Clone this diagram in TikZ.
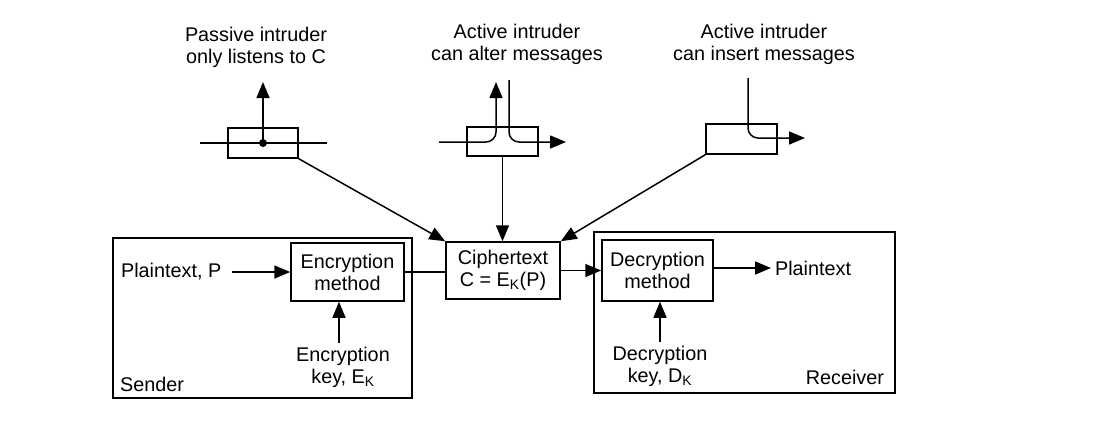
\documentclass[tikz,border=0pt]{standalone}
\usepackage{fontspec}
\setmainfont{Liberation Sans}
\usetikzlibrary{arrows.meta}

\begin{document}
\begin{tikzpicture}[x=1pt,y=-1pt,line width=1.5pt,font=\fontsize{19.8}{22}\selectfont,
  box/.style={draw,inner sep=0pt,align=center},
  arr/.style={-{Triangle[length=16pt,width=13pt]}},
  tap/.style={arr,rounded corners=10pt}]
  \useasboundingbox (0,0) rectangle (1114,424);
  % sender and receiver
  \node[box,minimum width=299pt,minimum height=160pt] (sender) at (262.5,318) {};
  \node[box,minimum width=113pt,minimum height=58pt] (enc) at (347.5,272) {Encryption\\method};
  \node[box,minimum width=114pt,minimum height=57pt] (cipher) at (503,270.5) {Ciphertext\\C = E\textsubscript{K}(P)};
  \node[box,minimum width=301pt,minimum height=161pt] (receiver) at (744.5,312.5) {};
  \node[box,minimum width=111pt,minimum height=61pt] (dec) at (657.5,270.5) {Decryption\\method};
  \node[anchor=west] (ptin) at (117,272) {Plaintext, P};
  \node[anchor=west] (ptout) at (771,268) {Plaintext};
  \node[align=center] (ekey) at (343,367) {Encryption\\key, E\textsubscript{K}};
  \node[align=center] (dkey) at (660,366) {Decryption\\key, D\textsubscript{K}};
  \node[anchor=west] (sname) at (116,384) {Sender};
  \node[anchor=east] (rname) at (888,377) {Receiver};
  \draw[arr,shorten <=7pt] (ptin.east) -- (enc.west |- ptin.east);
  \draw (enc.east) -- (enc.east -| cipher.west);
  \draw[arr] (cipher.east) -- (cipher.east -| dec.west);
  \draw[arr] (dec.east |- ptout.west) -- (ptout.west);
  \draw[arr] ([xshift=-4pt]ekey.north) -- ([xshift=-4pt]ekey.north |- enc.south);
  \draw[arr] (dkey.north) -- (dkey.north |- dec.south);
  % intruders
  \node[align=center] (plbl) at (256,47) {Passive intruder\\only listens to C};
  \node[align=center] (albl) at (517,44) {Active intruder\\can alter messages};
  \node[align=center] (ilbl) at (764,44) {Active intruder\\can insert messages};
  \node[box,minimum width=70pt,minimum height=30pt] (pbox) at (263,143) {};
  \node[box,minimum width=71pt,minimum height=29pt] (abox) at (502.5,141.5) {};
  \node[box,minimum width=71pt,minimum height=30pt] (ibox) at (741.5,139) {};
  \coordinate (pin) at (200,143);
  \coordinate (pout) at (327,143);
  \coordinate (pup) at (263,82);
  \draw (pin) -- (pout);
  \fill (pbox.center) circle (4pt);
  \draw[arr] (pbox.center) -- (pup);
  \coordinate (ain) at (439,142);
  \coordinate (aup) at (496,82);
  \coordinate (adown) at (509,80);
  \coordinate (aout) at (566,142);
  \draw[tap] (ain) -- (aup |- ain) -- (aup);
  \draw[tap] (adown) -- (adown |- aout) -- (aout);
  \coordinate (idown) at (748,78);
  \coordinate (iout) at (805,138);
  \draw[tap] (idown) -- (idown |- iout) -- (iout);
  \draw[arr] (pbox.south east) -- (cipher.north west);
  \draw[arr] (abox.south) -- (abox.south |- cipher.north);
  \draw[arr] (ibox.south west) -- (cipher.north east);
\end{tikzpicture}
\end{document}
